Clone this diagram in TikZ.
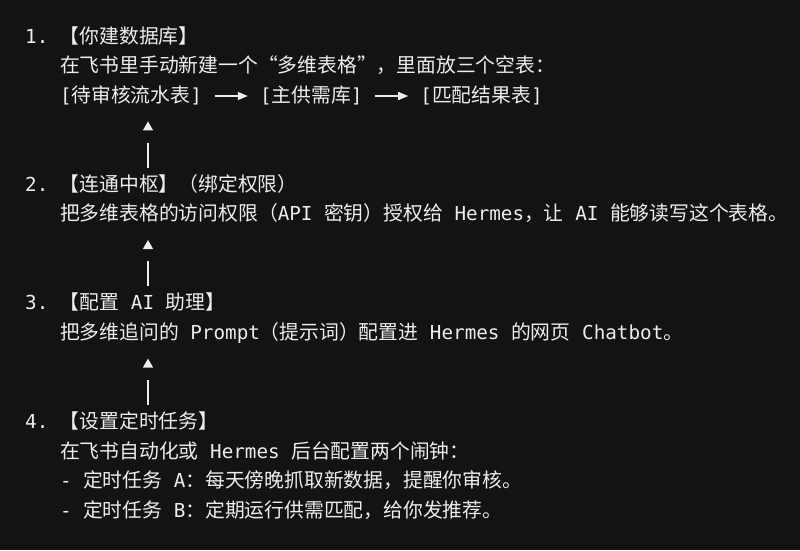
\documentclass[tikz,border=0pt]{standalone}
\usepackage{fontspec}
\setmainfont{Noto Sans CJK SC}
\newfontfamily\monofont[Scale=0.973]{DejaVu Sans Mono}
\usetikzlibrary{arrows.meta}
\definecolor{bgcol}{HTML}{131313}
\definecolor{fgcol}{HTML}{EDEDED}
\newcommand{\lat}[1]{{\monofont\relax#1}}
\newcommand{\qo}{\makebox[1em][r]{“}}
\newcommand{\qc}{\makebox[1em][l]{”}}
\frenchspacing

\begin{document}
\begin{tikzpicture}[x=1pt, y=-1pt, fgcol, font=\fontsize{19.8}{24}\selectfont,
	txt/.style={anchor=base west, inner sep=0pt, text height=13.5pt, text depth=0.9pt, text=fgcol},
	hflow/.style={line width=1.4pt, -{Triangle[length=10pt,width=8pt]}, shorten <=12.5pt, shorten >=12pt},
	vflow/.style={line width=1.3pt, -{Triangle[length=9pt,width=10pt]}, dash pattern=on 25pt off 40pt, shorten <=10pt, shorten >=18pt}]
	%background
	\fill[bgcol] (0,0) rectangle (800,550);
	\useasboundingbox (0,0) rectangle (800,550);
	\coordinate (col) at (148,0);
	%step 1
	\node[txt] (s1) at (25,43) {\lat{1. }【你建数据库】};
	\node[txt] (s1a) at (59.8,72.65) {在飞书里手动新建一个\qo 多维表格\qc，里面放三个空表：};
	\node[txt] (t1) at (59.8,102.3) {\lat{[}待审核流水表\lat{]}};
	\node[txt] (t2) at (259.8,102.3) {\lat{[}主供需库\lat{]}};
	\node[txt] (t3) at (420.2,102.3) {\lat{[}匹配结果表\lat{]}};
	\draw[hflow] (t1.east) -- (t2.west);
	\draw[hflow] (t2.east) -- (t3.west);
	%step 2
	\node[txt] (s2) at (25,191.25) {\lat{2. }【连通中枢】（绑定权限）};
	\node[txt] (s2a) at (59.8,220.9) {把多维表格的访问权限（\lat{API }密钥）授权给\lat{ Hermes}，让\lat{ AI }能够读写这个表格。};
	%step 3
	\node[txt] (s3) at (25,309.85) {\lat{3. }【配置\lat{ AI }助理】};
	\node[txt] (s3a) at (59.8,339.5) {把多维追问的\lat{ Prompt}（提示词）配置进\lat{ Hermes }的网页\lat{ Chatbot}。};
	%step 4
	\node[txt] (s4) at (25,428.45) {\lat{4. }【设置定时任务】};
	\node[txt] (s4a) at (59.8,458.1) {在飞书自动化或\lat{ Hermes }后台配置两个闹钟：};
	\node[txt] (s4b) at (59.8,487.75) {\lat{- }定时任务\lat{ A}：每天傍晚抓取新数据，提醒你审核。};
	\node[txt] (s4c) at (59.8,517.4) {\lat{- }定时任务\lat{ B}：定期运行供需匹配，给你发推荐。};
	%links up
	\draw[vflow] (s2.north -| col) -- (t1.south -| col);
	\draw[vflow] (s3.north -| col) -- (s2a.south -| col);
	\draw[vflow] (s4.north -| col) -- (s3a.south -| col);
\end{tikzpicture}
\end{document}
